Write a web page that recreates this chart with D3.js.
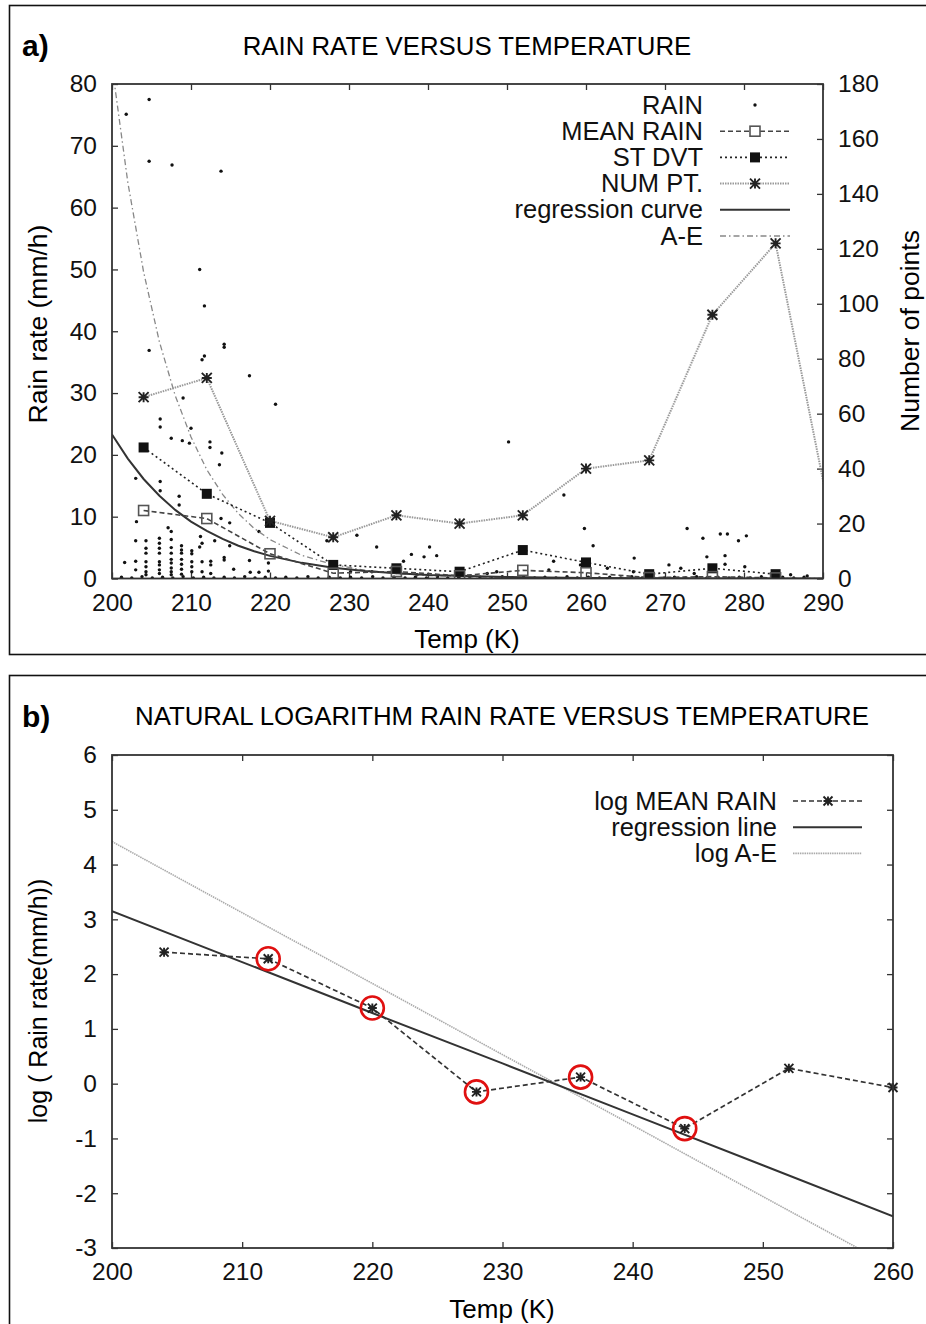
<!DOCTYPE html>
<html>
<head>
<meta charset="utf-8">
<script src="https://cdn.jsdelivr.net/npm/d3@7"></script>
<style>
  body { margin: 0; background: #fff; }
  svg { display: block; font-family: "Liberation Sans", Arial, sans-serif; }
</style>
</head>
<body>
<svg width="926" height="1324"></svg>
<script>
// ---- panel a data ----
const binTemps = [204, 212, 220, 228, 236, 244, 252, 260, 268, 276, 284];
const meanRain = [11.0, 9.7, 4.0, 0.86, 1.13, 0.44, 1.32, 0.93, 0.15, 0.3, 0.1];
const stDvt = [21.2, 13.7, 9.0, 2.2, 1.65, 1.1, 4.6, 2.6, 0.7, 1.65, 0.7];
const numPtTemps = [204, 212, 220, 228, 236, 244, 252, 260, 268, 276, 284, 292];
const numPt = [66, 73, 21, 15, 23, 20, 23, 40, 43, 96, 122, 7];

const curveTemps = [200, 202, 204, 206, 208, 210, 212, 214, 216, 218, 220, 224, 228, 232, 236, 240, 250, 260, 270, 280, 290];
const regCurve = [23.3, 19.4, 16.1, 13.4, 11.1, 9.2, 7.7, 6.4, 5.3, 4.4, 3.66, 2.53, 1.74, 1.2, 0.83, 0.57, 0.23, 0.09, 0.035, 0.014, 0.005];
const aeCurve = [83, 64.1, 49.6, 38.3, 29.6, 22.9, 17.6, 13.6, 10.5, 8.1, 6.3, 3.76, 2.24, 1.34, 0.8, 0.48, 0.13, 0.036, 0.01, 0.003, 0.001];

// raw rain rates [temp, mm/h]
const rainPts = [
  [201.8, 75.1], [204.7, 77.5], [204.7, 67.5], [207.6, 66.9], [213.8, 65.9], [211.1, 50.0], [211.7, 44.1],
  [204.7, 36.9], [211.4, 35.4], [211.7, 36.0], [214.2, 37.9], [214.2, 37.4], [217.4, 32.8], [220.7, 28.2],
  [209.0, 29.2], [206.1, 25.8], [206.1, 24.5], [210.0, 24.3], [207.5, 22.7], [208.9, 22.3], [209.8, 21.9],
  [212.4, 22.1], [212.4, 21.2], [213.9, 20.3], [213.6, 18.4], [203.0, 16.2], [206.1, 15.7], [206.1, 14.2],
  [208.5, 13.3], [208.5, 11.9], [203.1, 9.2], [207.1, 8.2], [207.5, 7.6], [211.2, 6.8], [213.0, 6.1],
  [213.8, 9.7], [214.9, 9.0], [214.9, 5.3], [218.6, 7.6], [217.4, 2.9], [219.8, 2.5], [227.2, 6.1],
  [201.6, 2.6], [211.1, 5.1],
  [203.0, 6.1], [203.0, 2.8], [203.0, 1.4],
  [204.3, 6.1], [204.3, 4.9], [204.3, 4.1], [204.3, 2.7], [204.3, 1.9], [204.3, 1.1], [204.3, 0.6],
  [206.0, 6.5], [206.0, 5.7], [206.0, 4.9], [206.0, 4.1], [206.0, 2.7], [206.0, 2.2], [206.0, 1.4], [206.0, 0.8],
  [207.5, 6.3], [207.5, 5.0], [207.5, 4.1], [207.5, 3.1], [207.5, 2.5], [207.5, 1.7], [207.5, 1.1], [207.5, 0.6],
  [208.8, 5.3], [208.8, 4.6], [208.8, 4.1], [208.8, 3.1], [208.8, 2.3], [208.8, 1.5], [208.8, 0.7],
  [210.1, 4.5], [210.1, 4.0], [210.1, 2.7], [210.1, 1.9], [210.1, 1.1],
  [211.4, 5.7], [211.4, 2.7], [211.4, 1.1], [212.5, 2.8], [212.5, 2.2], [212.5, 0.8],
  [214.2, 3.4], [214.2, 3.0], [215.4, 1.5], [217.5, 1.0], [218.6, 1.0], [219.8, 1.2],
  [231.0, 7.0], [233.5, 5.1], [236.9, 2.8], [237.9, 3.9], [239.5, 3.5], [240.2, 5.1], [241.1, 3.7],
  [250.2, 22.1], [257.2, 13.5], [259.8, 8.1], [260.9, 5.3], [255.9, 2.8], [266.1, 3.3], [270.5, 2.2],
  [272.8, 8.1], [274.8, 6.5], [275.3, 3.5], [277.0, 7.2], [277.9, 7.2], [277.6, 3.7], [279.3, 6.1],
  [280.3, 6.9], [277.6, 2.3], [280.1, 1.9], [259.3, 2.2], [262.7, 1.65], [272.0, 1.65], [255.3, 1.4],
  [248.7, 1.1], [247.5, 0.8], [230.2, 1.1], [232.9, 1.1], [238.6, 0.6], [266.0, 1.1], [273.7, 0.8],
  [285.9, 0.6], [288.0, 0.4],
  [201.2, 0.2], [202.5, 0.1], [203.8, 0.3], [205.1, 0.1], [206.4, 0.2], [207.7, 0.1], [209.0, 0.3],
  [210.3, 0.1], [211.6, 0.2], [212.9, 0.1], [214.2, 0.2], [215.5, 0.1], [216.8, 0.3], [218.1, 0.1],
  [219.4, 0.2], [220.7, 0.1], [222.0, 0.2], [223.4, 0.1], [224.8, 0.3], [226.1, 0.1], [227.5, 0.2],
  [228.9, 0.1], [230.2, 0.2], [231.6, 0.1], [233.0, 0.3], [234.3, 0.1], [235.7, 0.2], [237.1, 0.1],
  [238.4, 0.2], [239.8, 0.1], [241.2, 0.3], [242.5, 0.1], [243.9, 0.2], [245.3, 0.1], [246.6, 0.2],
  [248.0, 0.1], [249.4, 0.3], [250.7, 0.1], [252.1, 0.2], [253.5, 0.1], [254.8, 0.2], [256.2, 0.1],
  [257.6, 0.3], [258.9, 0.1], [260.3, 0.2], [261.7, 0.1], [263.0, 0.2], [264.4, 0.1], [265.8, 0.3],
  [267.1, 0.1], [268.5, 0.2], [269.9, 0.1], [271.2, 0.2], [272.6, 0.1], [274.0, 0.3], [275.3, 0.1],
  [276.7, 0.2], [278.1, 0.1], [279.4, 0.2], [280.8, 0.1], [282.2, 0.3], [283.5, 0.1], [284.9, 0.2],
  [286.3, 0.1], [287.6, 0.2]
];

const xTicksA = [200, 210, 220, 230, 240, 250, 260, 270, 280, 290];
const yTicksA = [0, 10, 20, 30, 40, 50, 60, 70, 80];
const y2TicksA = [0, 20, 40, 60, 80, 100, 120, 140, 160, 180];

// ---- panel b data ----
const logTemps = [204, 212, 220, 228, 236, 244, 252, 260];
const logMeanRain = [2.4, 2.28, 1.38, -0.15, 0.12, -0.82, 0.28, -0.07];
const circledTemps = [212, 220, 228, 236, 244];
const lineTemps = [200, 210, 220, 230, 240, 250, 260];
const regLine = [3.15, 2.22, 1.29, 0.37, -0.56, -1.49, -2.42];
const logAE = [4.42, 3.12, 1.83, 0.53, -0.76, -2.06, -3.35];
const xTicksB = [200, 210, 220, 230, 240, 250, 260];
const yTicksB = [-3, -2, -1, 0, 1, 2, 3, 4, 5, 6];

const svg = d3.select('svg');
const FONT = '"Liberation Sans", Arial, sans-serif';
const plain = d => String(d);   // gnuplot style: hyphen minus

// panel frames
svg.append('rect').attr('x', 9.5).attr('y', 5.5).attr('width', 930).attr('height', 649)
  .attr('fill', 'none').attr('stroke', '#111').attr('stroke-width', 1.6);
svg.append('rect').attr('x', 9.5).attr('y', 675.5).attr('width', 930).attr('height', 660)
  .attr('fill', 'none').attr('stroke', '#111').attr('stroke-width', 1.6);

function styleAxis(g) {
  g.attr('font-size', 24.5).attr('font-family', FONT);
  g.select('.domain').remove();
  g.selectAll('line').attr('stroke', '#333').attr('stroke-width', 1.3);
  g.selectAll('text').attr('fill', '#111');
}

function asterisk(g, x, y, s) {
  g.append('path')
    .attr('d', `M${x - s},${y}H${x + s}M${x},${y - s}V${y + s}M${x - s},${y - s}L${x + s},${y + s}M${x - s},${y + s}L${x + s},${y - s}`)
    .attr('stroke', '#222').attr('stroke-width', 1.9).attr('fill', 'none');
}

// ================= panel a =================
const xA = d3.scaleLinear().domain([200, 290]).range([112, 823]);
const yA = d3.scaleLinear().domain([0, 80]).range([578.5, 84]);
const y2A = d3.scaleLinear().domain([0, 180]).range([578.5, 84]);

svg.append('clipPath').attr('id', 'clipA').append('rect')
  .attr('x', 112).attr('y', 84).attr('width', 711).attr('height', 494.5);

svg.append('g').attr('transform', 'translate(0,578.5)')
  .call(d3.axisBottom(xA).tickValues(xTicksA).tickFormat(plain).tickSize(-6).tickPadding(15)).call(styleAxis);
svg.append('g').attr('transform', 'translate(0,84)')
  .call(d3.axisTop(xA).tickValues(xTicksA).tickSize(-6).tickFormat('')).call(styleAxis);
svg.append('g').attr('transform', 'translate(112,0)')
  .call(d3.axisLeft(yA).tickValues(yTicksA).tickFormat(plain).tickSize(-6).tickPadding(15)).call(styleAxis);
svg.append('g').attr('transform', 'translate(823,0)')
  .call(d3.axisRight(y2A).tickValues(y2TicksA).tickFormat(plain).tickSize(-6).tickPadding(15)).call(styleAxis);

const plotA = svg.append('g').attr('clip-path', 'url(#clipA)');

const lineA = d3.line().x(d => xA(d[0])).y(d => yA(d[1]));
const lineA2 = d3.line().x(d => xA(d[0])).y(d => y2A(d[1]));

// rain scatter
plotA.selectAll('circle.rain').data(rainPts).enter().append('circle')
  .attr('class', 'rain')
  .attr('cx', d => xA(d[0])).attr('cy', d => yA(d[1]))
  .attr('r', 1.7).attr('fill', '#111');

// A-E and regression curve
plotA.append('path').datum(d3.zip(curveTemps, aeCurve)).attr('d', lineA)
  .attr('fill', 'none').attr('stroke', '#888').attr('stroke-width', 1.3).attr('stroke-dasharray', '6,3,1.5,3');
plotA.append('path').datum(d3.zip(curveTemps, regCurve)).attr('d', lineA)
  .attr('fill', 'none').attr('stroke', '#333').attr('stroke-width', 2);

// num pt
plotA.append('path').datum(d3.zip(numPtTemps, numPt)).attr('d', lineA2)
  .attr('fill', 'none').attr('stroke', '#999').attr('stroke-width', 2).attr('stroke-dasharray', '1.5,1');
// st dvt
plotA.append('path').datum(d3.zip(binTemps, stDvt)).attr('d', lineA)
  .attr('fill', 'none').attr('stroke', '#222').attr('stroke-width', 1.6).attr('stroke-dasharray', '2,3');
// mean rain
plotA.append('path').datum(d3.zip(binTemps, meanRain)).attr('d', lineA)
  .attr('fill', 'none').attr('stroke', '#444').attr('stroke-width', 1.6).attr('stroke-dasharray', '5,3');

plotA.selectAll('rect.sd').data(d3.zip(binTemps, stDvt)).enter().append('rect')
  .attr('class', 'sd')
  .attr('x', d => xA(d[0]) - 5).attr('y', d => yA(d[1]) - 5)
  .attr('width', 10).attr('height', 10).attr('fill', '#111');
plotA.selectAll('rect.mr').data(d3.zip(binTemps, meanRain)).enter().append('rect')
  .attr('class', 'mr')
  .attr('x', d => xA(d[0]) - 5).attr('y', d => yA(d[1]) - 5)
  .attr('width', 10).attr('height', 10).attr('fill', 'none').attr('stroke', '#555').attr('stroke-width', 1.6);
d3.zip(numPtTemps, numPt).forEach(d => asterisk(plotA, xA(d[0]), y2A(d[1]), 5));

// frame
svg.append('rect').attr('x', 112).attr('y', 84).attr('width', 711).attr('height', 494.5)
  .attr('fill', 'none').attr('stroke', '#333').attr('stroke-width', 1.8);

// legend a
const legA = [
  {label: 'RAIN', kind: 'dot'},
  {label: 'MEAN RAIN', kind: 'mean'},
  {label: 'ST DVT', kind: 'sd'},
  {label: 'NUM PT.', kind: 'num'},
  {label: 'regression curve', kind: 'reg'},
  {label: 'A-E', kind: 'ae'}
];
legA.forEach((d, i) => {
  const cy = 105 + i * 26.2;
  svg.append('text').attr('x', 703).attr('y', cy + 8.5).attr('text-anchor', 'end')
    .attr('font-size', 25.5).attr('fill', '#111').text(d.label);
  const ln = svg.append('line').attr('x1', 720).attr('x2', 790).attr('y1', cy).attr('y2', cy).attr('fill', 'none');
  if (d.kind === 'dot') {
    ln.remove();
    svg.append('circle').attr('cx', 755).attr('cy', cy).attr('r', 1.7).attr('fill', '#111');
  } else if (d.kind === 'mean') {
    ln.attr('stroke', '#444').attr('stroke-width', 1.6).attr('stroke-dasharray', '5,3');
    svg.append('rect').attr('x', 750).attr('y', cy - 5).attr('width', 10).attr('height', 10)
      .attr('fill', '#fff').attr('stroke', '#555').attr('stroke-width', 1.6);
  } else if (d.kind === 'sd') {
    ln.attr('stroke', '#222').attr('stroke-width', 1.6).attr('stroke-dasharray', '2,3');
    svg.append('rect').attr('x', 750).attr('y', cy - 5).attr('width', 10).attr('height', 10).attr('fill', '#111');
  } else if (d.kind === 'num') {
    ln.attr('stroke', '#999').attr('stroke-width', 2).attr('stroke-dasharray', '1.5,1');
    asterisk(svg, 755, cy, 5);
  } else if (d.kind === 'reg') {
    ln.attr('stroke', '#333').attr('stroke-width', 2);
  } else {
    ln.attr('stroke', '#888').attr('stroke-width', 1.3).attr('stroke-dasharray', '6,3,1.5,3');
  }
});

// titles a
svg.append('text').attr('x', 22).attr('y', 56).attr('font-size', 30).attr('font-weight', 'bold').text('a)');
svg.append('text').attr('x', 467).attr('y', 55).attr('text-anchor', 'middle').attr('font-size', 25.8).text('RAIN RATE VERSUS TEMPERATURE');
svg.append('text').attr('x', 467).attr('y', 648).attr('text-anchor', 'middle').attr('font-size', 26).text('Temp (K)');
svg.append('text').attr('transform', 'translate(47,324) rotate(-90)').attr('text-anchor', 'middle')
  .attr('font-size', 26.5).text('Rain rate (mm/h)');
svg.append('text').attr('transform', 'translate(919,331) rotate(-90)').attr('text-anchor', 'middle')
  .attr('font-size', 26.5).text('Number of points');

// ================= panel b =================
const xB = d3.scaleLinear().domain([200, 260]).range([112, 893]);
const yB = d3.scaleLinear().domain([-3, 6]).range([1248, 755]);

svg.append('clipPath').attr('id', 'clipB').append('rect')
  .attr('x', 112).attr('y', 755).attr('width', 781).attr('height', 493);

svg.append('g').attr('transform', 'translate(0,1248)')
  .call(d3.axisBottom(xB).tickValues(xTicksB).tickFormat(plain).tickSize(-6).tickPadding(15)).call(styleAxis);
svg.append('g').attr('transform', 'translate(0,755)')
  .call(d3.axisTop(xB).tickValues(xTicksB).tickSize(-6).tickFormat('')).call(styleAxis);
svg.append('g').attr('transform', 'translate(112,0)')
  .call(d3.axisLeft(yB).tickValues(yTicksB).tickFormat(plain).tickSize(-6).tickPadding(15)).call(styleAxis);
svg.append('g').attr('transform', 'translate(893,0)')
  .call(d3.axisRight(yB).tickValues(yTicksB).tickSize(-6).tickFormat('')).call(styleAxis);

const plotB = svg.append('g').attr('clip-path', 'url(#clipB)');
const lineB = d3.line().x(d => xB(d[0])).y(d => yB(d[1]));

plotB.append('path').datum(d3.zip(lineTemps, logAE)).attr('d', lineB)
  .attr('fill', 'none').attr('stroke', '#aaa').attr('stroke-width', 1.6).attr('stroke-dasharray', '1.5,0.8');
plotB.append('path').datum(d3.zip(lineTemps, regLine)).attr('d', lineB)
  .attr('fill', 'none').attr('stroke', '#333').attr('stroke-width', 2);
plotB.append('path').datum(d3.zip(logTemps, logMeanRain)).attr('d', lineB)
  .attr('fill', 'none').attr('stroke', '#333').attr('stroke-width', 1.7).attr('stroke-dasharray', '5,3');
d3.zip(logTemps, logMeanRain).forEach(d => asterisk(svg, xB(d[0]), yB(d[1]), 4.5));

const circled = d3.zip(logTemps, logMeanRain).filter(d => circledTemps.includes(d[0]));
svg.selectAll('circle.hl').data(circled).enter().append('circle')
  .attr('class', 'hl')
  .attr('cx', d => xB(d[0])).attr('cy', d => yB(d[1])).attr('r', 11.5)
  .attr('fill', 'none').attr('stroke', '#e01010').attr('stroke-width', 2.6);

svg.append('rect').attr('x', 112).attr('y', 755).attr('width', 781).attr('height', 493)
  .attr('fill', 'none').attr('stroke', '#333').attr('stroke-width', 1.8);

// legend b
const legB = [
  {label: 'log MEAN RAIN', kind: 'mean'},
  {label: 'regression line', kind: 'reg'},
  {label: 'log A-E', kind: 'ae'}
];
legB.forEach((d, i) => {
  const cy = 801 + i * 26.2;
  svg.append('text').attr('x', 777).attr('y', cy + 8.5).attr('text-anchor', 'end')
    .attr('font-size', 25.5).attr('fill', '#111').text(d.label);
  const ln = svg.append('line').attr('x1', 793).attr('x2', 862).attr('y1', cy).attr('y2', cy);
  if (d.kind === 'mean') {
    ln.attr('stroke', '#333').attr('stroke-width', 1.7).attr('stroke-dasharray', '5,3');
    asterisk(svg, 828, cy, 4.5);
  } else if (d.kind === 'reg') {
    ln.attr('stroke', '#333').attr('stroke-width', 2);
  } else {
    ln.attr('stroke', '#aaa').attr('stroke-width', 1.6).attr('stroke-dasharray', '1.5,0.8');
  }
});

svg.append('text').attr('x', 22).attr('y', 727).attr('font-size', 30).attr('font-weight', 'bold').text('b)');
svg.append('text').attr('x', 502).attr('y', 725).attr('text-anchor', 'middle').attr('font-size', 25.8)
  .text('NATURAL LOGARITHM RAIN RATE VERSUS TEMPERATURE');
svg.append('text').attr('x', 502).attr('y', 1318).attr('text-anchor', 'middle').attr('font-size', 26).text('Temp (K)');
svg.append('text').attr('transform', 'translate(47,1001) rotate(-90)').attr('text-anchor', 'middle')
  .attr('font-size', 25).text('log ( Rain rate(mm/h))');
</script>
</body>
</html>
